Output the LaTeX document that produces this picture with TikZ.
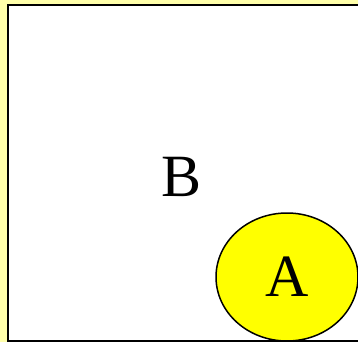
\documentclass[tikz,border=0pt]{standalone}
\usepackage{fontspec}
\setmainfont{Liberation Serif}
\usetikzlibrary{shapes.geometric}
\definecolor{paleyellow}{HTML}{FFFFAA}
\definecolor{setyellow}{HTML}{FFFF00}

\begin{document}
\begin{tikzpicture}[x=1pt, y=1pt,
  setbox/.style={draw=black, line width=2pt, fill=white},
  setlabel/.style={font=\fontsize{60}{62}\selectfont},
  subset/.style={ellipse, draw=black, line width=1.5pt, fill=setyellow,
    minimum width=142pt, minimum height=128pt, inner sep=0pt}
]
  \useasboundingbox (0,0) rectangle (358,-342);
  \begin{scope}
    \clip (0,0) rectangle (358,-342);
    \fill[paleyellow] (0,0) rectangle (358,-342);

    % Set B
    \draw[setbox] (7.5,-5.5) rectangle (400,-340.5);
    \node[setlabel] (b) at (182,-177) {B};

    % Set A
    \node[subset, setlabel] (a) at (287,-277) {A};
  \end{scope}
\end{tikzpicture}
\end{document}
